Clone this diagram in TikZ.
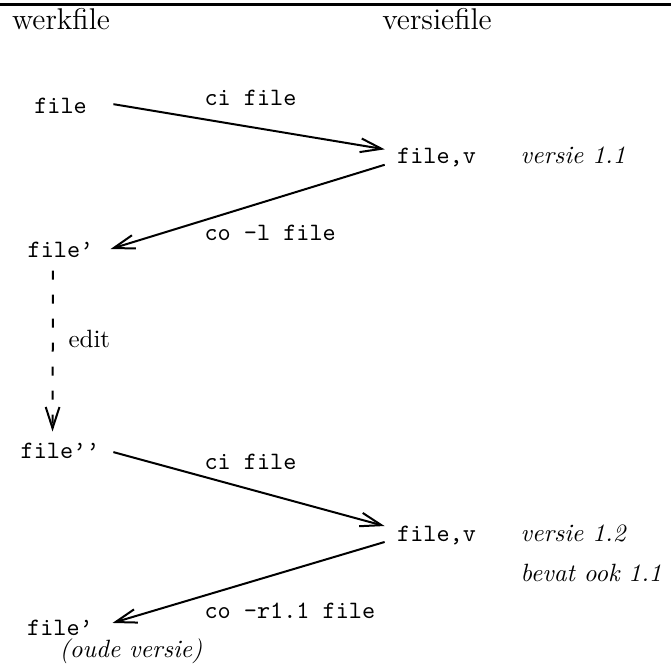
\documentclass[tikz,border=0pt]{standalone}
\usetikzlibrary{arrows.meta}
\begin{document}
\begin{tikzpicture}[x=0.4pt,y=-0.4pt,
    kop/.style={anchor=base,inner sep=0pt,font=\large},
    bestand/.style={anchor=base,inner sep=0pt,font=\ttfamily,text height=6pt,text depth=0pt},
    commando/.style={anchor=base west,inner sep=0pt,font=\ttfamily},
    opm/.style={anchor=base west,inner sep=0pt,font=\itshape},
    pijl/.style={line width=0.8pt,-{Straight Barb[length=8.5pt,width=5.5pt]}}]
    \useasboundingbox (0,0) rectangle (671,666);
    % kop
    \draw[line width=1.2pt] (0,5)--(671,5);
    \node[kop] (werk) at (61,30) {werkfile};
    \node[kop] (versie) at (437,30) {versiefile};
    % eerste ronde
    \node[bestand] (f1) at (60.5,113) {file};
    \node[bestand] (fv1) at (436.5,163) {file,v};
    \node[bestand] (fp1) at (60.5,257) {file\textquoteright};
    \node[commando] (ci1) at (204,105) {ci file};
    \node[commando] (co1) at (204,240) {co -l file};
    \node[opm] (v11) at (520,163) {versie 1.1};
    \draw[pijl,shorten <=10.6pt,shorten >=4.8pt] (f1.12)--(fv1.174);
    \draw[pijl,shorten <=5pt,shorten >=7pt] (fv1.188)--(fp1.352);
    % tweede ronde
    \node[bestand] (fpp) at (60,458) {file\textquoteright\textquoteright};
    \node[bestand] (fv2) at (436.5,541) {file,v};
    \node[bestand] (fp2) at (60,635) {file\textquoteright};
    \node[commando] (ci2) at (204,469) {ci file};
    \node[commando] (co2) at (204,618) {co -r1.1 file};
    \node[opm] (v12) at (520,541) {versie 1.2};
    \node[opm] (ook) at (520,581) {bevat ook 1.1};
    \node[anchor=base,inner sep=0pt,font=\itshape] (oud) at (131,657) {(oude versie)};
    \draw[pijl,shorten <=5.6pt,shorten >=5pt] (fpp.3)--(fv2.174);
    \draw[pijl,shorten <=5pt,shorten >=8pt] (fv2.187)--(fp2.358);
    % edit
    \draw[pijl,dash pattern=on 3.6pt off 6pt,shorten <=5.2pt,shorten >=4.4pt]
        ([xshift=-3pt]fp1.south)--([xshift=-3pt]fpp.north);
    \node[anchor=base west,inner sep=0pt] (edit) at (68,347) {edit};
\end{tikzpicture}
\end{document}
